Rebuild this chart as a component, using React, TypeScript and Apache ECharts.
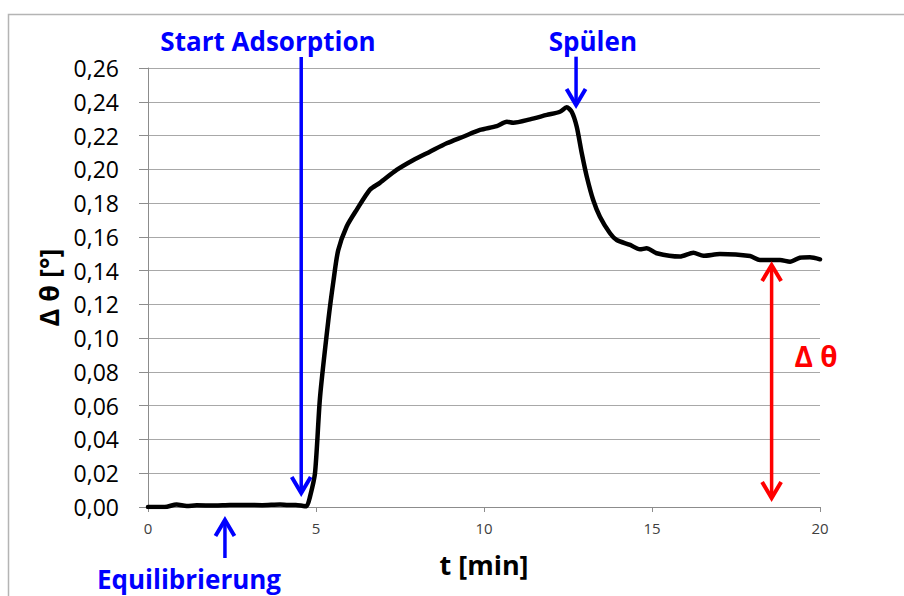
import React, { useEffect, useRef } from "react";
import * as echarts from "echarts";

// Measured adsorption curve: time in minutes, angle shift in degrees
const timeMin = [
  0, 0.5, 0.85, 1.15, 1.45, 2.0, 2.44, 2.93, 3.4, 3.93, 4.17, 4.4, 4.62, 4.72,
  4.82, 4.97, 5.12, 5.37, 5.52, 5.66, 5.91, 6.21, 6.61, 6.9, 7.4, 7.9, 8.39,
  8.89, 9.38, 9.88, 10.38, 10.68, 10.87, 11.37, 11.87, 12.26, 12.46, 12.61,
  12.76, 12.91, 13.06, 13.25, 13.45, 13.75, 13.95, 14.35, 14.64, 14.84, 15.14,
  15.83, 16.23, 16.53, 17.02, 17.92, 18.21, 18.81, 19.11, 19.4, 19.7, 20,
];
const deltaTheta = [
  0, 0, 0.0015, 0.0006, 0.001, 0.0009, 0.0012, 0.0012, 0.0011, 0.0015, 0.0012,
  0.0012, 0.0006, 0.0005, 0.006, 0.02, 0.065, 0.111, 0.134, 0.152, 0.166,
  0.176, 0.188, 0.192, 0.1996, 0.2055, 0.2104, 0.2154, 0.2193, 0.2233, 0.2256,
  0.2282, 0.2276, 0.2296, 0.2322, 0.2341, 0.2367, 0.2341, 0.2252, 0.2095,
  0.1956, 0.1818, 0.1719, 0.1621, 0.1581, 0.1552, 0.1526, 0.1532, 0.1503,
  0.1483, 0.1506, 0.1488, 0.1498, 0.1486, 0.1463, 0.1463, 0.1453, 0.1476,
  0.1479, 0.1467,
];

// Axis ranges
const xTicks = [0, 5, 10, 15, 20];
const yMax = 0.26;
const yStep = 0.02;

// Annotation anchors in data coordinates
const startArrow = { x: 4.56, top: 0.2665, tip: 0.0083 };
const rinseArrow = { x: 12.74, top: 0.2667, tip: 0.2381 };
const equilArrow = { x: 2.29, tip: -0.0077, bottom: -0.0302 };
const deltaArrow = { x: 18.56, top: 0.1433, bottom: 0.0053 };
const labels = [
  { text: "Start Adsorption", x: 3.57, y: 0.2758, color: "#0000ff", size: 26 },
  { text: "Spülen", x: 13.24, y: 0.2758, color: "#0000ff", size: 26 },
  { text: "Equilibrierung", x: 1.22, y: -0.0424, color: "#0000ff", size: 26 },
  { text: "Δ θ", x: 19.88, y: 0.0897, color: "#ff0000", size: 28 },
];

const FONT = '"Open Sans", sans-serif';

export default function App() {
  const ref = useRef<HTMLDivElement>(null);

  useEffect(() => {
    if (!ref.current) return;
    const chart = echarts.init(ref.current, null, { renderer: "svg" });

    chart.setOption({
      animation: false,
      backgroundColor: "#ffffff",
      grid: { left: 148, right: 84, top: 68, bottom: 89 },
      xAxis: {
        type: "value",
        min: xTicks[0],
        max: xTicks[xTicks.length - 1],
        interval: 5,
        name: "t [min]",
        nameLocation: "middle",
        nameGap: 44,
        nameTextStyle: {
          fontFamily: FONT,
          fontSize: 27,
          fontWeight: "bold",
          color: "#000",
        },
        axisLine: { show: true, lineStyle: { color: "#8c8c8c", width: 1 } },
        axisTick: { show: true, length: 5, lineStyle: { color: "#8c8c8c" } },
        axisLabel: {
          margin: 13,
          fontFamily: FONT,
          fontSize: 15,
          color: "#404040",
        },
        splitLine: { show: false },
      },
      yAxis: {
        type: "value",
        min: 0,
        max: yMax,
        interval: yStep,
        name: "Δ θ [°]",
        nameLocation: "middle",
        nameGap: 86,
        nameTextStyle: {
          fontFamily: FONT,
          fontSize: 27,
          fontWeight: "bold",
          color: "#000",
        },
        axisLine: { show: true, lineStyle: { color: "#8c8c8c", width: 1 } },
        axisTick: { show: true, length: 9, lineStyle: { color: "#8c8c8c" } },
        axisLabel: {
          margin: 29,
          fontFamily: FONT,
          fontSize: 23,
          color: "#000",
          formatter: (v: number) => v.toFixed(2).replace(".", ","),
        },
        splitLine: { show: true, lineStyle: { color: "#a8a8a8", width: 1 } },
      },
      series: [
        {
          type: "line",
          data: timeMin.map((t, i) => [t, deltaTheta[i]]),
          showSymbol: false,
          smooth: 0.25,
          lineStyle: { color: "#000000", width: 4.5, cap: "round", join: "round" },
          z: 3,
        },
      ],
    });

    const p = (x: number, y: number) =>
      chart.convertToPixel({ gridIndex: 0 }, [x, y]) as number[];

    const stem = (x: number, y1: number, y2: number, color: string, w: number) => {
      const a = p(x, y1);
      const b = p(x, y2);
      return {
        type: "line",
        shape: { x1: a[0], y1: a[1], x2: b[0], y2: b[1] },
        style: { stroke: color, lineWidth: w },
        z: 10,
      };
    };
    // dir = 1: head points down, dir = -1: head points up
    const head = (x: number, y: number, dir: number, color: string, w: number) => {
      const t = p(x, y);
      const hw = 9.5;
      const h = 16;
      return {
        type: "polyline",
        shape: {
          points: [
            [t[0] - hw, t[1] - dir * h],
            [t[0], t[1]],
            [t[0] + hw, t[1] - dir * h],
          ],
        },
        style: { stroke: color, lineWidth: w, fill: null, lineJoin: "miter" },
        z: 10,
      };
    };

    const blue = "#0000ff";
    const red = "#ff0000";
    const elements: any[] = [
      {
        type: "rect",
        shape: { x: 8.5, y: 14.5, width: 1000, height: 1000 },
        style: { stroke: "#b4b4b4", lineWidth: 1.5, fill: null },
        silent: true,
        z: 0,
      },
      stem(startArrow.x, startArrow.top, startArrow.tip, blue, 3.5),
      head(startArrow.x, startArrow.tip, 1, blue, 4),
      stem(rinseArrow.x, rinseArrow.top, rinseArrow.tip, blue, 3.5),
      head(rinseArrow.x, rinseArrow.tip, 1, blue, 4),
      stem(equilArrow.x, equilArrow.tip, equilArrow.bottom, blue, 3.5),
      head(equilArrow.x, equilArrow.tip, -1, blue, 4),
      stem(deltaArrow.x, deltaArrow.top, deltaArrow.bottom, red, 3.5),
      head(deltaArrow.x, deltaArrow.top, -1, red, 4),
      head(deltaArrow.x, deltaArrow.bottom, 1, red, 4),
      ...labels.map((l) => {
        const c = p(l.x, l.y);
        return {
          type: "text",
          x: c[0],
          y: c[1],
          style: {
            text: l.text,
            fill: l.color,
            fontFamily: FONT,
            fontSize: l.size,
            fontWeight: "bold",
            align: "center",
            verticalAlign: "middle",
          },
          z: 10,
        };
      }),
    ];

    chart.setOption({ graphic: { elements } });

    return () => chart.dispose();
  }, []);

  return (
    <div
      ref={ref}
      style={{ position: "fixed", left: 0, top: 0, width: 904, height: 596 }}
    />
  );
}
